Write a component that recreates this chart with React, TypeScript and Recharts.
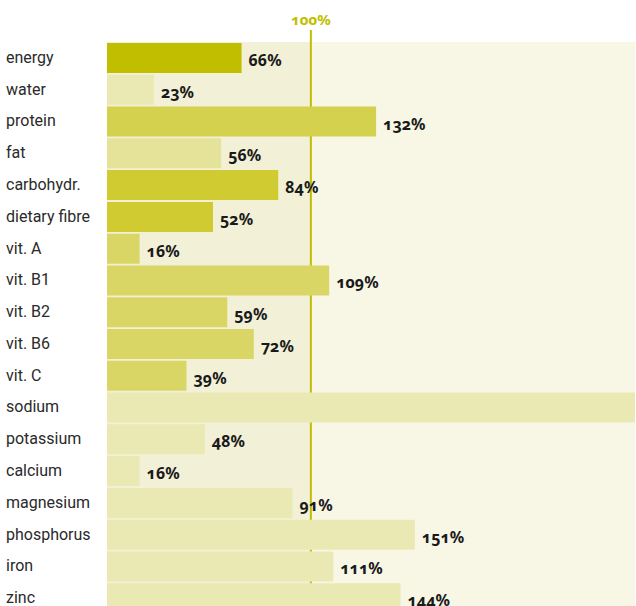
import React from "react";
import { Bar, BarChart, Cell, LabelList, ReferenceArea, XAxis, YAxis } from "recharts";

const nutrients = [
  "energy",
  "water",
  "protein",
  "fat",
  "carbohydr.",
  "dietary fibre",
  "vit. A",
  "vit. B1",
  "vit. B2",
  "vit. B6",
  "vit. C",
  "sodium",
  "potassium",
  "calcium",
  "magnesium",
  "phosphorus",
  "iron",
  "zinc"
];

// % of recommended daily intake; sodium runs off the chart
const percentOfNeed = [66, 23, 132, 56, 84, 52, 16, 109, 59, 72, 39, 290, 48, 16, 91, 151, 111, 144];

const barColors = [
  "#c1be00",
  "#eae8b3",
  "#d3d14d",
  "#e5e39a",
  "#cfcb30",
  "#cfcb30",
  "#d9d666",
  "#d9d666",
  "#d9d666",
  "#d9d666",
  "#d9d666",
  "#ebe9b3",
  "#ebe9b3",
  "#ebe9b3",
  "#ebe9b3",
  "#ebe9b3",
  "#ebe9b3",
  "#ebe9b3"
];

const AXIS_MAX = 259;
const REFERENCE = 100;

const data = nutrients.map((name, i) => ({
  name,
  value: percentOfNeed[i],
  color: barColors[i]
}));

const labelFont = "'Noto Sans', 'Open Sans', sans-serif";
const nameFont = "Roboto, 'Liberation Sans', sans-serif";

function NameTick(props: any) {
  const { y, payload } = props;
  return (
    <text x={6} y={y + 5} textAnchor="start" fill="#2a2a2a" fontFamily={nameFont} fontSize={16}>
      {payload.value}
    </text>
  );
}

function ValueLabel(props: any) {
  const { x, y, width, height, value } = props;
  if (value > AXIS_MAX) return null;
  return (
    <text
      x={x + width + 7}
      y={y + height / 2 + 8}
      fill="#1a1a1a"
      fontFamily={labelFont}
      fontWeight={700}
      fontSize={16}
      style={{ fontVariantNumeric: "oldstyle-nums" }}
    >
      {value}%
    </text>
  );
}

// 100% marker: drawn as a zero-width reference area so it sits behind the bars
function HundredLine(props: any) {
  const { x, y, height } = props;
  return (
    <g>
      <line x1={x} y1={y - 12} x2={x} y2={y + height} stroke="#c1be00" strokeWidth={2} />
      <text
        x={x}
        y={y - 17}
        textAnchor="middle"
        fill="#c1be00"
        fontFamily={labelFont}
        fontWeight={700}
        fontSize={15}
        style={{ fontVariantNumeric: "oldstyle-nums" }}
      >
        100%
      </text>
    </g>
  );
}

export default function App() {
  return (
    <div
      style={{
        position: "absolute",
        left: 0,
        top: 0,
        width: 636,
        height: 606,
        overflow: "hidden",
        background: "#fff"
      }}
    >
      <BarChart
        width={636}
        height={614}
        data={data}
        layout="vertical"
        margin={{ top: 42, right: 1, bottom: 0, left: 0 }}
        barSize={30}
      >
        <XAxis type="number" domain={[0, AXIS_MAX]} allowDataOverflow hide />
        <YAxis
          type="category"
          dataKey="name"
          width={107}
          axisLine={false}
          tickLine={false}
          interval={0}
          tick={<NameTick />}
        />
        <ReferenceArea x1={0} x2={REFERENCE} fill="#f2f1d7" fillOpacity={1} stroke="none" />
        <ReferenceArea x1={REFERENCE} x2={AXIS_MAX} fill="#f8f7e6" fillOpacity={1} stroke="none" />
        <ReferenceArea x1={REFERENCE} x2={REFERENCE} shape={<HundredLine />} ifOverflow="visible" />
        <Bar dataKey="value" isAnimationActive={false}>
          {data.map((d) => (
            <Cell key={d.name} fill={d.color} />
          ))}
          <LabelList dataKey="value" content={<ValueLabel />} />
        </Bar>
      </BarChart>
    </div>
  );
}
